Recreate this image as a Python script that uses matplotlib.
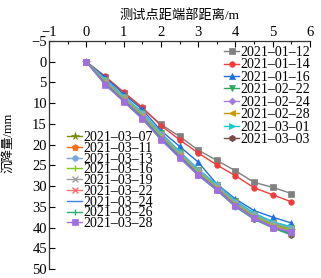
import numpy as np
import matplotlib
matplotlib.use('Agg')
import matplotlib.pyplot as plt
from matplotlib.ticker import MultipleLocator

plt.rcParams['font.family'] = ['Liberation Serif', 'Noto Sans CJK SC']

# distance of test point from end (m)
x = [0, 0.5, 1.0, 1.5, 2.0, 2.5, 3.0, 3.5, 4.0, 4.5, 5.0, 5.5]

dates = ['2021-01-12', '2021-01-14', '2021-01-16', '2021-02-22',
         '2021-02-24', '2021-02-28', '2021-03-01', '2021-03-03',
         '2021-03-07', '2021-03-11', '2021-03-13', '2021-03-16',
         '2021-03-19', '2021-03-22', '2021-03-24', '2021-03-26',
         '2021-03-28']

# settlement (mm)
s_0112 = [0, 3.6, 7.5, 11.2, 15.1, 18.0, 21.3, 23.8, 26.3, 29.1, 30.3, 31.8]
s_0114 = [0, 3.5, 7.3, 11.0, 15.4, 18.8, 22.0, 24.9, 27.5, 30.4, 32.1, 33.8]
s_0116 = [0, 3.7, 7.8, 11.5, 16.6, 20.4, 24.2, 29.5, 33.1, 35.9, 37.5, 38.9]
s_0222 = [0, 4.3, 8.4, 12.3, 17.3, 21.8, 26.0, 29.8, 33.7, 36.7, 38.8, 40.0]
s_0224 = [0, 4.8, 8.9, 12.9, 17.9, 22.4, 26.6, 30.3, 34.3, 37.3, 39.4, 40.7]
s_0228 = [0, 4.5, 8.6, 12.5, 17.5, 22.0, 26.2, 29.9, 33.9, 36.9, 39.0, 40.2]
s_0301 = [0, 4.2, 8.3, 12.2, 17.1, 21.6, 25.9, 29.6, 33.5, 36.5, 38.6, 39.8]
s_0303 = [0, 5.3, 9.4, 13.6, 18.6, 23.0, 27.3, 30.9, 34.9, 37.9, 40.0, 41.7]
s_0307 = [0, 4.6, 8.8, 12.7, 17.7, 22.2, 26.4, 30.1, 34.1, 37.1, 39.2, 40.5]
s_0311 = [0, 4.9, 9.0, 13.0, 18.0, 22.5, 26.7, 30.4, 34.4, 37.4, 39.5, 40.8]
s_0313 = [0, 4.4, 8.5, 12.4, 17.4, 21.9, 26.1, 29.8, 33.8, 36.8, 38.9, 40.1]
s_0316 = [0, 4.7, 8.8, 12.8, 17.8, 22.3, 26.5, 30.2, 34.2, 37.2, 39.3, 40.6]
s_0319 = [0, 5.0, 9.1, 13.2, 18.2, 22.6, 26.9, 30.5, 34.5, 37.5, 39.7, 41.0]
s_0322 = [0, 5.1, 9.2, 13.3, 18.3, 22.7, 27.0, 30.6, 34.6, 37.6, 39.8, 41.2]
s_0324 = [0, 5.2, 9.3, 13.4, 18.4, 22.8, 27.1, 30.7, 34.7, 37.7, 39.9, 41.4]
s_0326 = [0, 5.4, 9.5, 13.7, 18.7, 23.1, 27.4, 31.0, 35.0, 38.0, 40.1, 41.8]
s_0328 = [0, 5.5, 9.6, 13.8, 18.8, 23.2, 27.3, 30.9, 34.8, 37.8, 40.0, 41.1]

series = [s_0112, s_0114, s_0116, s_0222, s_0224, s_0228, s_0301, s_0303,
          s_0307, s_0311, s_0313, s_0316, s_0319, s_0322, s_0324, s_0326,
          s_0328]

colors = ['#808080', '#f03c3c', '#1f6fe0', '#2ea860', '#a57be0', '#c89a00',
          '#1cc8c8', '#7a4a44', '#7f8a10', '#ff6a10', '#7aa8dc', '#80c820',
          '#a0a0a0', '#ff7070', '#3b7ff0', '#2cb070', '#a070e0']
markers = ['s', 'o', '^', 'v', 'D', '<', '>', 'h', '*', 'p', 'o', '|',
           'x', 'x', '', '|', 's']
msizes = [4, 4, 4.5, 4.5, 3.5, 4.5, 4.5, 4.5, 5.5, 4.5, 4, 5, 4, 4, 0, 4, 4]

fig = plt.figure(figsize=(3.21, 2.78), dpi=100)
ax = fig.add_axes([49 / 321, 1 - 269 / 278, 261 / 321, 228 / 278])

lines = []
for s, c, m, ms, d in zip(series, colors, markers, msizes, dates):
    ln, = ax.plot(x, s, color=c, marker=m, markersize=ms, linewidth=1.0,
                  markeredgewidth=1.0 if m in ('x', '|') else 0.5,
                  label=d.replace('-', '\u2013'))
    lines.append(ln)

ax.set_xlim(-1, 6)
ax.set_ylim(50, -5)
ax.xaxis.tick_top()
ax.xaxis.set_label_position('top')
ax.xaxis.set_major_locator(MultipleLocator(1))
ax.xaxis.set_minor_locator(MultipleLocator(0.5))
ax.yaxis.set_major_locator(MultipleLocator(5))
ax.tick_params(axis='both', which='major', direction='in', length=4,
               width=0.8, labelsize=10.5, pad=1.5)
ax.tick_params(axis='x', which='minor', direction='in', length=2, width=0.8,
               top=True, bottom=False)
ax.spines['right'].set_visible(False)
ax.spines['bottom'].set_visible(False)
for sp in ('top', 'left'):
    ax.spines[sp].set_linewidth(0.9)
    ax.spines[sp].set_color('#333333')

ax.set_xlabel('测试点距端部距离/m', fontsize=9.5, labelpad=5)
ax.set_ylabel('沉降量/mm', fontsize=9)
ax.yaxis.set_label_coords(-0.135, 0.553)

leg1 = ax.legend(handles=lines[:8], loc='upper left',
                 bbox_to_anchor=(224 / 321, 1 - 46 / 278),
                 bbox_transform=fig.transFigure, frameon=False, fontsize=10,
                 handlelength=1.1, handletextpad=0.1, labelspacing=-0.04,
                 borderpad=0, borderaxespad=0)
ax.add_artist(leg1)
ax.legend(handles=lines[8:], loc='upper left',
          bbox_to_anchor=(67 / 321, 1 - 131 / 278),
          bbox_transform=fig.transFigure, frameon=False, fontsize=10,
          handlelength=1.1, handletextpad=0.1, labelspacing=-0.16,
          borderpad=0, borderaxespad=0)

fig.savefig('out.png', dpi=100)
